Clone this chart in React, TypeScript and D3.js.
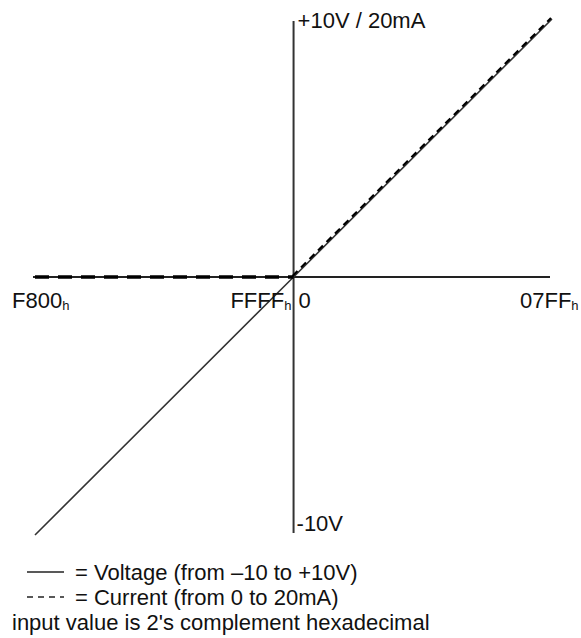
import React from "react";
import * as d3 from "d3";

// input codes (2's complement, 12 bit) and the outputs at those codes
const inputCodes = [-2048, 0, 2047];
const voltage = [-10, 0, 10];
const current = [0, 0, 20];

const xTickValues = [-2048, -1, 0, 2047];
const xTickLabels = ["F800", "FFFF", "0", "07FF"];
const xTickSuffix = ["h", "h", "", "h"];

const yTopLabel = "+10V / 20mA";
const yBottomLabel = "-10V";

const legendItems = [
  { label: "= Voltage (from \u201310 to +10V)", dash: null },
  { label: "= Current (from 0 to 20mA)", dash: "6 5" },
];
const footnote = "input value is 2's complement hexadecimal";

const W = 581;
const H = 638;
const FONT = "'Liberation Sans', Arial, sans-serif";

const App = () => {
  const x = d3.scaleLinear().domain([-2048, 2047]).range([35, 552]);
  const yV = d3.scaleLinear().domain([-10, 10]).range([535, 19]);
  const yI = d3.scaleLinear().domain([-20, 20]).range([535, 19]);

  const x0 = x(0);
  const y0 = yV(0);

  const voltagePts = inputCodes.map((c, i) => [x(c), yV(voltage[i])]);
  const currentPts = inputCodes.map((c, i) => [x(c), yI(current[i])]);

  const line = d3.line();

  // flat part (negative codes) and rising part of the current
  const flat = currentPts.filter((_, i) => current[i] === 0);
  const rising = currentPts.filter((_, i) => inputCodes[i] >= 0);

  const tickAnchor = ["start", "end", "start", "start"];
  const tickDx = [-23, -2, 5, -32];

  return (
    <svg
      width={W}
      height={H}
      style={{ position: "absolute", left: 0, top: 0, background: "#fff" }}
      fontFamily={FONT}
    >
      {/* axes */}
      <line x1={x0} x2={x0} y1={21} y2={533} stroke="#333" strokeWidth={2} />
      <line x1={33} x2={550} y1={y0} y2={y0} stroke="#222" strokeWidth={2} />

      {/* voltage */}
      <path d={line(voltagePts)} fill="none" stroke="#333" strokeWidth={1.6} />

      {/* current */}
      <path
        d={line(flat)}
        fill="none"
        stroke="#000"
        strokeWidth={3.5}
        strokeDasharray="14 9"
      />
      <path
        d={line(rising)}
        fill="none"
        stroke="#000"
        strokeWidth={2.2}
        strokeDasharray="7 5"
        transform="translate(-1,-1)"
      />

      {/* x labels */}
      {xTickValues.map((v, i) => {
        const xx = i === 0 ? 35 : i === 3 ? 552 : x(v);
        return (
          <text
            key={i}
            x={xx + tickDx[i]}
            y={308}
            fontSize={22}
            fill="#111"
            textAnchor={tickAnchor[i]}
          >
            {xTickLabels[i]}
            {xTickSuffix[i] && (
              <tspan fontSize={13} dy={2} fill="#111">
                {xTickSuffix[i]}
              </tspan>
            )}
          </text>
        );
      })}

      {/* y labels */}
      <text x={x0 + 4} y={28} fontSize={22} fill="#111">
        {yTopLabel}
      </text>
      <text x={x0 + 3} y={531} fontSize={22} fill="#111">
        {yBottomLabel}
      </text>

      {/* legend */}
      {legendItems.map((d, i) => (
        <g key={i} transform={`translate(0,${572 + i * 25})`}>
          <line
            x1={27}
            x2={64}
            y1={0}
            y2={0}
            stroke="#222"
            strokeWidth={1.5}
            strokeDasharray={d.dash || undefined}
          />
          <text x={75} y={8} fontSize={22} fill="#111">
            {d.label}
          </text>
        </g>
      ))}
      <text x={12} y={630} fontSize={22} fill="#111">
        {footnote}
      </text>
    </svg>
  );
};

export default App;
